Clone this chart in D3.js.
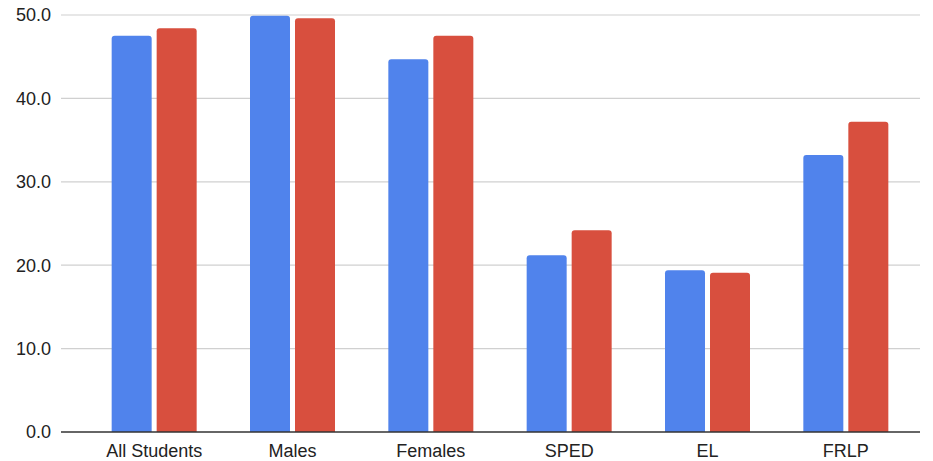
<!DOCTYPE html>
<html>
<head>
<meta charset="utf-8">
<script src="https://cdn.jsdelivr.net/npm/d3@7"></script>
<style>
  body { margin: 0; background: #fff; }
  text { font-family: "Liberation Sans", Arial, sans-serif; fill: #222; }
</style>
</head>
<body>
<svg id="chart" width="933" height="461"></svg>
<script>
// Chart data
var categories = ["All Students", "Males", "Females", "SPED", "EL", "FRLP"];
var seriesA = [47.5, 49.9, 44.7, 21.2, 19.4, 33.2];
var seriesB = [48.4, 49.6, 47.5, 24.2, 19.1, 37.2];
var yTicks = [0, 10, 20, 30, 40, 50];
var seriesColors = ["#5083ec", "#d84f3e"];

var svg = d3.select("#chart");

// Plot area
var plotLeft = 61, plotRight = 920, plotTop = 15, plotBottom = 432;

// Scales
var y = d3.scaleLinear().domain([0, 50]).range([plotBottom, plotTop]);
var x = d3.scaleBand().domain(categories).range([85, 915]);
var barW = 40, barGap = 5;

// Gridlines
svg.append("g")
  .selectAll("line")
  .data(yTicks.filter(function(d) { return d > 0; }))
  .enter().append("line")
    .attr("x1", plotLeft).attr("x2", plotRight)
    .attr("y1", function(d) { return y(d); })
    .attr("y2", function(d) { return y(d); })
    .attr("stroke", "#d0d0d0")
    .attr("stroke-width", 1.2);

// Y tick labels
svg.append("g")
  .selectAll("text")
  .data(yTicks)
  .enter().append("text")
    .attr("x", 51)
    .attr("y", function(d) { return y(d); })
    .attr("dy", "0.35em")
    .attr("text-anchor", "end")
    .style("font-size", "18px")
    .text(function(d) { return d.toFixed(1); });

// Rounded-top bar path
function barPath(x0, w, yTop, yBase) {
  var r = Math.min(3, (yBase - yTop) / 2);
  return "M" + x0 + "," + yBase +
    "V" + (yTop + r) +
    "Q" + x0 + "," + yTop + " " + (x0 + r) + "," + yTop +
    "H" + (x0 + w - r) +
    "Q" + (x0 + w) + "," + yTop + " " + (x0 + w) + "," + (yTop + r) +
    "V" + yBase + "Z";
}

var rows = categories.map(function(c, i) { return { cat: c, vals: [seriesA[i], seriesB[i]] }; });

var groups = svg.append("g")
  .selectAll("g")
  .data(rows)
  .enter().append("g");

groups.selectAll("path")
  .data(function(d) {
    return d.vals.map(function(v, j) { return { cat: d.cat, v: v, j: j }; });
  })
  .enter().append("path")
    .attr("d", function(d) {
      var c = x(d.cat) + x.bandwidth() / 2;
      var x0 = d.j === 0 ? c - barGap / 2 - barW : c + barGap / 2;
      return barPath(x0, barW, y(d.v), y(0));
    })
    .attr("fill", function(d) { return seriesColors[d.j]; });

// Baseline
svg.append("line")
  .attr("x1", plotLeft).attr("x2", plotRight)
  .attr("y1", y(0)).attr("y2", y(0))
  .attr("stroke", "#333")
  .attr("stroke-width", 1.3);

// X labels
svg.append("g")
  .selectAll("text")
  .data(categories)
  .enter().append("text")
    .attr("x", function(d) { return x(d) + x.bandwidth() / 2; })
    .attr("y", 457)
    .attr("text-anchor", "middle")
    .style("font-size", "18px")
    .text(function(d) { return d; });
</script>
</body>
</html>
